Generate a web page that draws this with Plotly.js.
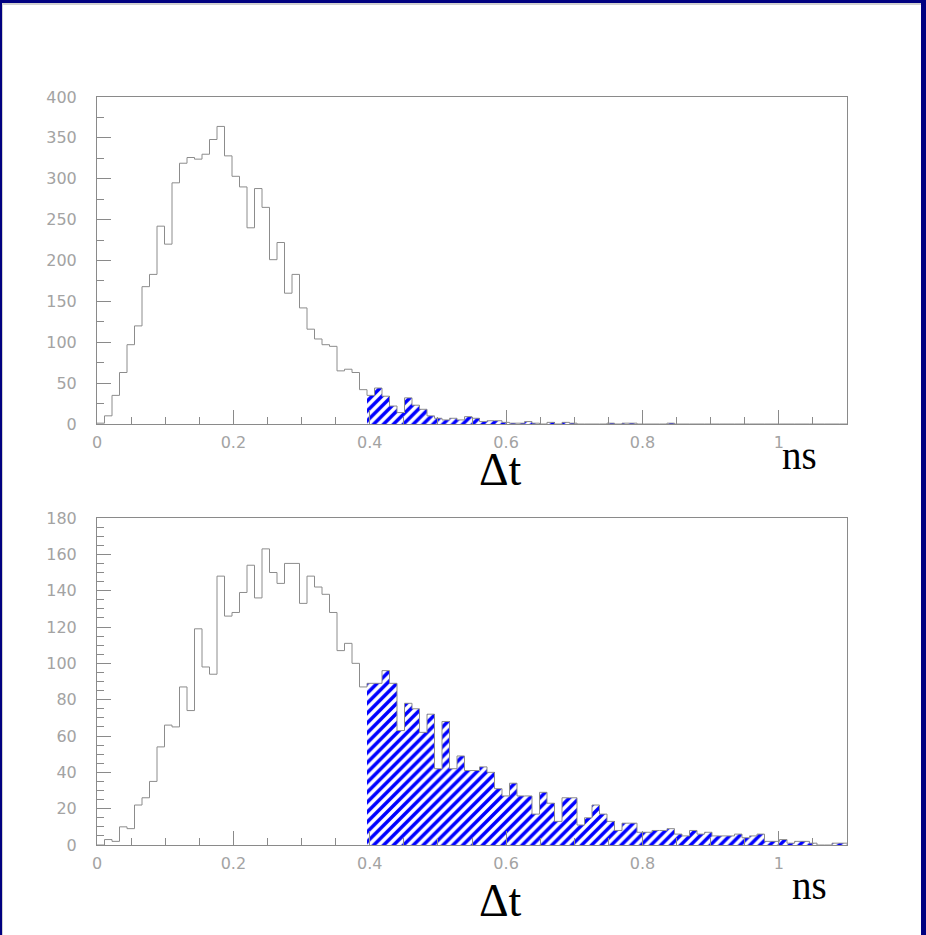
<!DOCTYPE html>
<html>
<head>
<meta charset="utf-8">
<script src="https://cdn.plot.ly/plotly-3.0.1.min.js"></script>
<style>
  html, body { margin: 0; padding: 0; }
  body { width: 926px; height: 935px; background: #000080; position: relative; overflow: hidden; }
  #frame { position: absolute; left: 2px; top: 3px; width: 918px; height: 940px;
           background: #ffffff; border-top: 2px solid #d0d0d0; border-left: 1px solid #d0d0d0; }
  #plot { position: absolute; left: 0; top: 0; width: 926px; height: 935px; }
</style>
</head>
<body>
<div id="frame"></div>
<div id="plot"></div>
<script>
// ---- data ----
const binStart = 0;        // ns
const binWidth = 0.011;    // ns, 100 bins over 0 .. 1.1
const cutIndex = 36;       // first hatched bin (Δt ≥ 0.4 ns)

const topCounts = [
  1, 10, 35, 63, 97, 120, 168, 183, 242, 220,
  295, 319, 326, 324, 330, 348, 364, 328, 303, 290,
  240, 288, 265, 201, 222, 160, 183, 142, 116, 104,
  97, 95, 65, 67, 63, 42, 35, 44, 34, 22,
  14, 32, 23, 18, 10, 7, 5, 7, 5, 9,
  7, 3, 4, 4, 2, 1, 1, 3, 1, 0,
  2, 0, 2, 1, 0, 0, 0, 0, 1, 0,
  1, 1, 0, 0, 0, 0, 1, 0, 0, 0,
  0, 0, 0, 0, 0, 0, 0, 0, 0, 0,
  0, 0, 0, 0, 0, 0, 0, 0, 0, 0
];

const bottomCounts = [
  0, 3, 2, 10, 9, 22, 26, 35, 54, 66,
  65, 87, 74, 119, 98, 94, 148, 126, 128, 139,
  154, 136, 163, 150, 144, 155, 155, 133, 148, 142,
  138, 128, 107, 111, 100, 87, 89, 89, 96, 89,
  63, 78, 75, 62, 72, 42, 68, 42, 49, 41,
  41, 43, 40, 31, 27, 34, 27, 27, 17, 29,
  23, 13, 26, 26, 11, 15, 22, 17, 13, 8,
  12, 12, 7, 7, 8, 8, 9, 6, 5, 8,
  6, 7, 5, 5, 5, 6, 4, 5, 6, 2,
  2, 3, 1, 2, 2, 1, 0, 0, 1, 1
];

const xTickLabelsInfo = { dtick: 0.2, minor: 0.05, range: [0, 1.1] };
const topY = { range: [0, 400], dtick: 50, minor: 25 };
const botY = { range: [0, 180], dtick: 20, minor: 5 };
const xLabel = "Δt";
const unitLabel = "ns";

// ---- layout geometry (page pixels) ----
const W = 926, H = 935;
const mL = 97, mR = 79, mT = 97, mB = 90;
const plotH = H - mT - mB;
const topDomain = [(H - mB - 424) / plotH, 1];
const botDomain = [0, (H - mB - 518) / plotH];
function px2x(px) { return (px - mL) / (W - mL - mR); }
function py2y(py) { return (H - mB - py) / plotH; }

const lineGrey = '#8a8a8a';
const histGrey = '#8c8c8c';
const labelGrey = '#a3a3a3';

function edges(n) { const e = []; for (let k = 0; k <= n; k++) e.push(binStart + k * binWidth); return e; }
function centers(n) { const c = []; for (let k = 0; k < n; k++) c.push(binStart + (k + 0.5) * binWidth); return c; }

function makeTraces(counts, xa, ya) {
  const n = counts.length;
  const e = edges(n);
  const c = centers(n);
  const stepY = counts.concat([counts[n - 1]]);
  const hx = c.slice(cutIndex), hy = counts.slice(cutIndex);
  return [
    { type: 'bar', x: hx, y: hy, width: binWidth, xaxis: xa, yaxis: ya,
      marker: { color: '#ffffff', line: { width: 0 },
                pattern: { shape: '/', fgcolor: '#0000ff', bgcolor: '#ffffff', size: 7, solidity: 0.5, fillmode: 'replace' } },
      hoverinfo: 'skip', showlegend: false },
    { type: 'scatter', mode: 'lines', x: e, y: stepY, xaxis: xa, yaxis: ya,
      line: { shape: 'hv', color: histGrey, width: 1 }, hoverinfo: 'skip', showlegend: false }
  ];
}

const data = makeTraces(topCounts, 'x', 'y').concat(makeTraces(bottomCounts, 'x2', 'y2'));

const tickFont = { family: 'DejaVu Sans', size: 16, color: labelGrey };

function xAxis(anchor) {
  return {
    anchor: anchor, range: xTickLabelsInfo.range, dtick: xTickLabelsInfo.dtick, tick0: 0,
    ticks: 'inside', ticklen: 14, tickwidth: 1, tickcolor: lineGrey,
    minor: { dtick: xTickLabelsInfo.minor, tick0: 0, ticks: 'inside', ticklen: 7, tickcolor: lineGrey, tickwidth: 1, showgrid: false },
    showline: true, linecolor: lineGrey, linewidth: 1, mirror: true,
    showgrid: false, zeroline: false, tickfont: tickFont, ticklabelstandoff: 4, fixedrange: true
  };
}
function yAxis(anchor, cfg, domain) {
  return {
    anchor: anchor, domain: domain, range: cfg.range, dtick: cfg.dtick, tick0: 0,
    ticks: 'inside', ticklen: 14, tickwidth: 1, tickcolor: lineGrey,
    minor: { dtick: cfg.minor, tick0: 0, ticks: 'inside', ticklen: 7, tickcolor: lineGrey, tickwidth: 1, showgrid: false },
    showline: true, linecolor: lineGrey, linewidth: 1, mirror: true,
    showgrid: false, zeroline: false, tickfont: tickFont, ticklabelstandoff: 16, fixedrange: true
  };
}

const serif = { family: 'Liberation Serif, Times New Roman, serif', color: '#000000' };
function ann(text, px, py, size) {
  return { text: text, xref: 'paper', yref: 'paper', x: px2x(px), y: py2y(py),
           xanchor: 'center', yanchor: 'middle', showarrow: false, borderpad: 0,
           font: Object.assign({}, serif, { size: size }) };
}

const layout = {
  width: W, height: H,
  margin: { l: mL, r: mR, t: mT, b: mB },
  paper_bgcolor: 'rgba(0,0,0,0)', plot_bgcolor: '#ffffff',
  barmode: 'overlay', bargap: 0,
  showlegend: false,
  xaxis: xAxis('y'),
  yaxis: yAxis('x', topY, topDomain),
  xaxis2: xAxis('y2'),
  yaxis2: yAxis('x2', botY, botDomain),
  annotations: [
    ann(xLabel, 501, 469, 46),
    ann(unitLabel, 799, 455, 39),
    ann(xLabel, 501, 900, 46),
    ann(unitLabel, 809, 885, 39)
  ]
};

Plotly.newPlot('plot', data, layout, { staticPlot: true, displayModeBar: false });
</script>
</body>
</html>
